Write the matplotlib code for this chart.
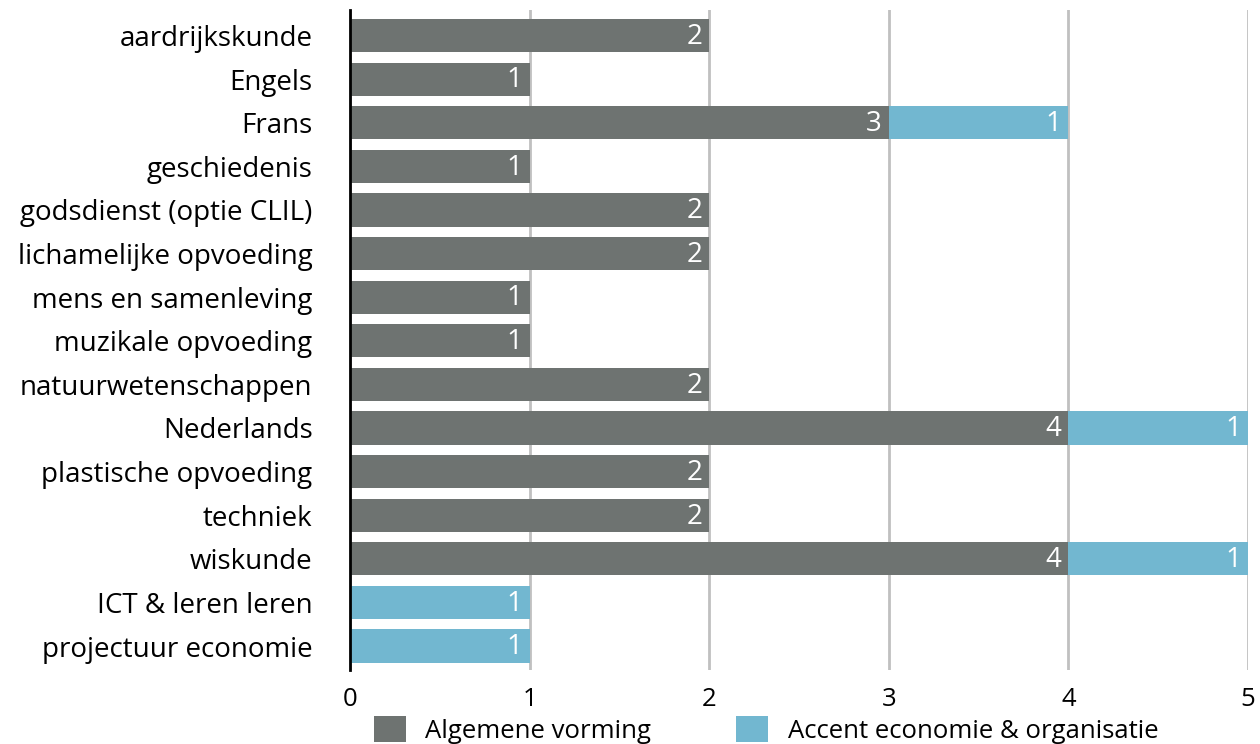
import matplotlib
matplotlib.use("Agg")
import matplotlib.pyplot as plt
from matplotlib.patches import Patch

plt.rcParams['font.family'] = ['Open Sans', 'DejaVu Sans']

categories = ["aardrijkskunde", "Engels", "Frans", "geschiedenis", "godsdienst (optie CLIL)",
              "lichamelijke opvoeding", "mens en samenleving", "muzikale opvoeding",
              "natuurwetenschappen", "Nederlands", "plastische opvoeding", "techniek",
              "wiskunde", "ICT & leren leren", "projectuur economie"]
algemene = [2, 1, 3, 1, 2, 2, 1, 1, 2, 4, 2, 2, 4, 0, 0]
accent = [0, 0, 1, 0, 0, 0, 0, 0, 0, 1, 0, 0, 1, 1, 1]
series_names = ["Algemene vorming", "Accent economie & organisatie"]
xticks = [0, 1, 2, 3, 4, 5]

c_gray = "#6e7371"
c_blue = "#72b7d0"
fs = 18.5
fs_lab = 20

fig = plt.figure(figsize=(12.6, 7.44), dpi=100)
ax = fig.add_axes([350/1260, 1-670/744, 898/1260, 660/744])

y = list(range(len(categories)))
h = 0.76
ax.barh(y, algemene, height=h, color=c_gray, zorder=3)
ax.barh(y, accent, left=algemene, height=h, color=c_blue, zorder=3)

for i in y:
    if algemene[i] > 0:
        ax.text(algemene[i] - 0.04, i + 0.03, str(algemene[i]), ha='right', va='center',
                color='white', fontsize=fs_lab, zorder=4)
    if accent[i] > 0:
        ax.text(algemene[i] + accent[i] - 0.04, i + 0.03, str(accent[i]), ha='right', va='center',
                color='white', fontsize=fs_lab, zorder=4)

ax.set_xlim(0, 5)
ax.set_ylim(14.55, -0.585)
ax.set_yticks(y)
ax.set_yticklabels(categories, fontsize=fs_lab)
ax.set_xticks(xticks)
ax.set_xticklabels([str(t) for t in xticks], fontsize=fs)
ax.tick_params(axis='both', length=0)
ax.tick_params(axis='y', pad=27)
ax.tick_params(axis='x', pad=12)
ax.xaxis.grid(True, color="#c0c0c0", linewidth=2, zorder=0)
ax.set_axisbelow(True)
for s in ['top', 'right', 'bottom']:
    ax.spines[s].set_visible(False)
ax.spines['left'].set_linewidth(2)
ax.spines['left'].set_color('black')
ax.spines['left'].set_zorder(5)

handles = [Patch(facecolor=c_gray), Patch(facecolor=c_blue)]
fig.legend(handles, series_names, loc='center', bbox_to_anchor=(0.608, 0.019),
           ncol=2, frameon=False, fontsize=fs, handlelength=1.25, handleheight=1.2,
           columnspacing=3.3, handletextpad=0.75, borderpad=0)

fig.savefig("out.png", dpi=100)
